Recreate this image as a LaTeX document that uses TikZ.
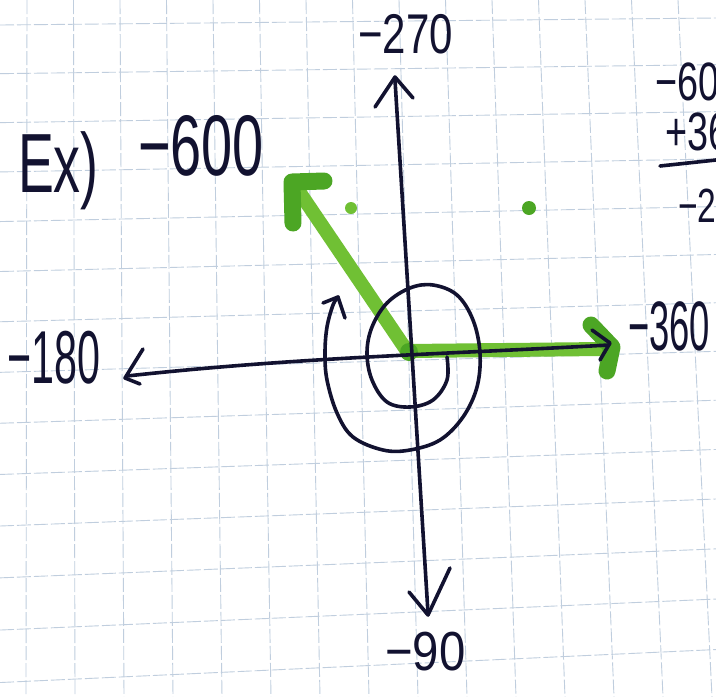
\documentclass[tikz,border=0pt]{standalone}
\usepackage{fontspec}
\setmainfont{Liberation Sans}
\definecolor{ink}{RGB}{18,18,48}
\definecolor{gridc}{RGB}{192,206,222}
\definecolor{gshaft}{RGB}{112,192,52}
\definecolor{ghead}{RGB}{76,166,36}
\tikzset{
  gridline/.style={draw=gridc, line width=0.9pt, dash pattern=on 14pt off 3pt},
  inkline/.style={draw=ink, line width=3.6pt, line cap=round, line join=round},
  greenshaft/.style={draw=gshaft, line width=14pt, line cap=round},
  greenhead/.style={draw=ghead, line width=17pt, line cap=round, line join=round},
  lbl/.style={text=ink, inner sep=0pt, anchor=base west}
}
\begin{document}
\begin{tikzpicture}[x=1pt,y=-1pt]
\useasboundingbox (0,0) rectangle (716,697);
\fill[white] (0,0) rectangle (716,697);
\clip (0,0) rectangle (716,697);
% graph paper grid
\foreach \k in {0,...,15}{
  \draw[gridline] ({27+46.5*\k},0) -- ({26+49*\k},697);
}
\foreach \j in {0,...,13}{
  \draw[gridline] (0,{25+48.5*\j+0.16*\j*\j}) -- (716,{25+48.5*\j+0.16*\j*\j-7-2*\j});
}
% green dots
\fill[gshaft] (351,208) circle (6);
\fill[ghead] (529,208) circle (7);
% green initial side (0 / -360)
\draw[greenshaft] (407,351) -- (603,349);
\draw[greenhead] (591,325) -- (612,347) -- (607,371);
% green terminal side (-600)
\draw[greenshaft] (407,351) -- (298,190);
\draw[greenhead] (324,181) -- (292,182) -- (293,223);
\fill[ghead] (409,352) circle (9);
% axes
\draw[inkline] (395,80) -- (428,613);
\draw[inkline] (375,107) -- (395,77) -- (413,98);
\draw[inkline] (409,592) -- (428,615) -- (450,568);
\draw[inkline] (127,376) .. controls (300,357) and (450,354) .. (609,345);
\draw[inkline] (143,349) -- (125,378) -- (140,384);
\draw[inkline] (592,330) -- (610,343) -- (600,360);
% spiral
\draw[inkline] plot[smooth, tension=0.6] coordinates {
 (447,357) (447,380) (433,400) (410,407) (387,402) (372,380) (367,353)
 (372,327) (387,303) (410,288) (433,285) (457,295) (473,320) (480,353)
 (477,387) (463,417) (440,440) (410,450) (383,450) (353,437) (337,413)
 (327,380) (325,353) (327,327) (333,305) (338,297)};
\draw[inkline] (323,303) -- (338,297) -- (345,318);
% labels
\node[lbl, xscale=0.64] (ex) at (18,192) {\fontsize{84}{88}\selectfont Ex)};
\node[lbl, xscale=0.65] (m600) at (138,175) {\fontsize{86}{90}\selectfont −600};
\node[lbl, xscale=0.75] (m270) at (358,53) {\fontsize{56}{60}\selectfont −270};
\node[lbl, xscale=0.55] (m180) at (7,383) {\fontsize{75}{80}\selectfont −180};
\node[lbl, xscale=0.52] (m360) at (628,350) {\fontsize{70}{75}\selectfont −360};
\node[lbl, xscale=0.86] (m90) at (385,670) {\fontsize{55}{60}\selectfont −90};
% side calculation (cut off at the right edge)
\node[lbl, xscale=0.7] (c1) at (655,100) {\fontsize{54}{58}\selectfont −600};
\node[lbl, xscale=0.7] (c2) at (665,150) {\fontsize{54}{58}\selectfont +360};
\draw[inkline] (660,166) -- (716,160);
\node[lbl, xscale=0.7] (c3) at (678,222) {\fontsize{48}{52}\selectfont −240};
\end{tikzpicture}
\end{document}
